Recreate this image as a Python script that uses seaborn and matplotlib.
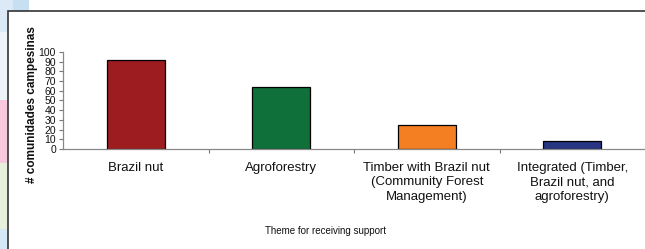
import matplotlib
matplotlib.use("Agg")
import matplotlib.pyplot as plt
from matplotlib.patches import Rectangle
import pandas as pd
import seaborn as sns

# Data
categories = [
    "Brazil nut",
    "Agroforestry",
    "Timber with Brazil nut\n(Community Forest\nManagement)",
    "Integrated (Timber,\nBrazil nut, and\nagroforestry)",
]
counts = [92, 64, 25, 8]
bar_colors = ["#9c1c20", "#0f703a", "#f47e22", "#283583"]
y_ticks = [0, 10, 20, 30, 40, 50, 60, 70, 80, 90, 100]

df = pd.DataFrame({"theme": categories, "count": counts})

sns.set_style("white")
plt.rcParams["font.family"] = ["Liberation Sans", "DejaVu Sans"]

fig = plt.figure(figsize=(6.45, 2.49), dpi=100)

# slide background strip on the left
bg = [
    (0.87, 0.13, "#dceaf7"),
    (0.60, 0.27, "#eef3fa"),
    (0.345, 0.255, "#f8c8dc"),
    (0.08, 0.265, "#e6f0dc"),
    (0.0, 0.08, "#d4e8f6"),
]
for y0, h, c in bg:
    fig.patches.append(Rectangle((0, y0), 0.02, h, transform=fig.transFigure,
                                 facecolor=c, edgecolor="none", zorder=0))
fig.patches.append(Rectangle((0.02, 0.955), 0.025, 0.045, transform=fig.transFigure,
                             facecolor="#c6e0f2", edgecolor="none", zorder=0))
# white panel with dark border (top and left)
fig.patches.append(Rectangle((0.0124, -0.1), 1.2, 1.0558, transform=fig.transFigure,
                             facecolor="white", edgecolor="#333333", linewidth=1.2,
                             zorder=1))

ax = fig.add_axes([0.0977, 0.4016, 0.9023, 0.3896])
ax.set_zorder(3)
ax.set_facecolor("none")

sns.barplot(data=df, x="theme", y="count", hue="theme", palette=bar_colors,
            saturation=1, legend=False, width=0.4, edgecolor="black",
            linewidth=0.9, ax=ax)

ax.set_ylim(0, 100)
ax.set_xlim(-0.5, 3.5)
ax.set_yticks(y_ticks)
ax.set_xticks([0.5, 1.5, 2.5], minor=True)
ax.tick_params(axis="x", which="major", length=0, pad=9, labelsize=9.5,
               colors="#111111")
ax.tick_params(axis="x", which="minor", length=3, width=0.8, color="#777777",
               direction="out", bottom=True)
ax.tick_params(axis="y", length=3, width=0.8, color="#777777", direction="out",
               left=True, labelsize=7.5, pad=2, labelcolor="#111111")
for lbl in ax.get_xticklabels():
    lbl.set_linespacing(1.3)

for s in ["top", "right"]:
    ax.spines[s].set_visible(False)
for s in ["left", "bottom"]:
    ax.spines[s].set_color("#888888")
    ax.spines[s].set_linewidth(0.9)

ax.set_xlabel("")
ax.set_ylabel("")
fig.text(0.05, 0.58, "# comunidades campesinas", rotation=90, fontsize=8.5,
         fontweight="bold", ha="center", va="center", color="#111111",
         zorder=4)
fig.text(0.504, 0.072, "Theme for receiving support", fontsize=7,
         ha="center", va="center", color="#111111", zorder=4)

fig.savefig("out.png", dpi=100)
